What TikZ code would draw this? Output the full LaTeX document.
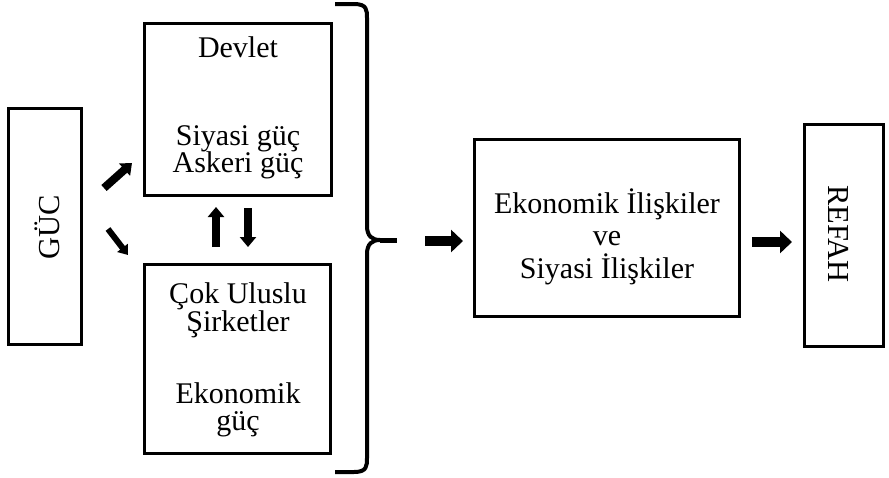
\documentclass[tikz,border=0pt]{standalone}
\usepackage{fontspec}
\setmainfont{Liberation Serif}
\usetikzlibrary{arrows.meta}
\begin{document}
\begin{tikzpicture}[x=1pt,y=-1pt,
  box/.style={draw,line width=3pt,inner sep=0pt},
  txt/.style={font=\fontsize{30}{33}\selectfont,inner sep=0pt,anchor=base},
  rtxt/.style={font=\fontsize{30.5}{33}\selectfont,inner sep=0pt},
  fatarrow/.style={line width=10pt,-{Triangle[length=12pt,width=22pt]}},
  midarrow/.style={line width=8pt,-{Triangle[length=10pt,width=16pt]}},
  thinarrow/.style={line width=6pt,-{Triangle[length=9pt,width=13pt]}},
  bracestyle/.style={line width=4pt,line join=round}]
\path[use as bounding box] (0,0) rectangle (889,477);
% boxes
\node[box,minimum width=73pt,minimum height=236pt] (guc) at (45,226.5) {};
\node[box,minimum width=187pt,minimum height=172pt] (devlet) at (238,109.5) {};
\node[box,minimum width=186pt,minimum height=189pt] (cok) at (237.5,359) {};
\node[box,minimum width=265pt,minimum height=177pt] (mid) at (607,228) {};
\node[box,minimum width=79pt,minimum height=222pt] (refah) at (844,235.5) {};
% texts
\node[rtxt,rotate=90] (guct) at (47,227) {GÜC};
\node[rtxt,rotate=-90] (refaht) at (839,234) {REFAH};
\node[txt] (t1) at (238,57) {Devlet};
\node[txt] (t2) at (238,145) {Siyasi güç};
\node[txt] (t3) at (238,172.5) {Askeri güç};
\node[txt] (t4) at (238,303) {Çok Uluslu};
\node[txt] (t5) at (238,331) {Şirketler};
\node[txt] (t6) at (238,403) {Ekonomik};
\node[txt] (t7) at (238,430) {güç};
\node[txt] (t8) at (607,213) {Ekonomik İlişkiler};
\node[txt] (t9) at (607,245) {ve};
\node[txt] (t10) at (607,278) {Siyasi İlişkiler};
% arrow end points
\coordinate (d1s) at (104,188);
\coordinate (d1e) at (132,163);
\coordinate (d2s) at (108,229);
\coordinate (d2e) at (128,255);
\coordinate (v1s) at (216,247);
\coordinate (v1e) at (216,207);
\coordinate (v2s) at (248,208);
\coordinate (v2e) at (248,247);
\coordinate (h1s) at (425,241);
\coordinate (h1e) at (463,241);
\coordinate (h2s) at (752,242);
\coordinate (h2e) at (792,242);
\draw[midarrow] (d1s) -- (d1e);
\draw[thinarrow] (d2s) -- (d2e);
\draw[midarrow] (v1s) -- (v1e);
\draw[midarrow] (v2s) -- (v2e);
\draw[fatarrow] (h1s) -- (h1e);
\draw[fatarrow] (h2s) -- (h2e);
% brace
\coordinate (btop) at (335,4);
\coordinate (bbot) at (335,472);
\coordinate (btip) at (380,240);
\coordinate (bend) at (397,240);
\draw[bracestyle] (btop) -- (354,4) .. controls (367,4) and (367,10) .. (367,18)
  -- (367,226) .. controls (367,236) and (372,240) .. (btip)
  .. controls (372,240) and (367,244) .. (367,254)
  -- (367,458) .. controls (367,466) and (367,472) .. (354,472) -- (bbot);
\draw[line width=5pt] (btip) -- (bend);
\end{tikzpicture}
\end{document}
